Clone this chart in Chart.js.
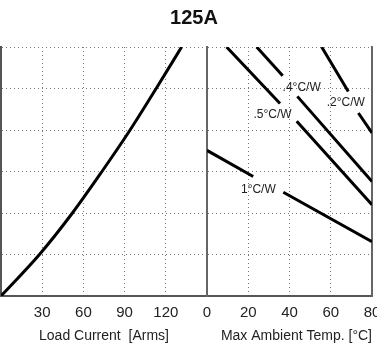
<!DOCTYPE html>
<html>
<head>
<meta charset="utf-8">
<script src="https://cdn.jsdelivr.net/npm/chart.js@4"></script>
<style>
  html, body { margin: 0; padding: 0; background: #fff; overflow: hidden; }
  #wrap { position: relative; width: 377px; height: 346px; overflow: hidden; }
  #wrap canvas { position: absolute; left: 0; top: 0; }
  #title { position: absolute; left: 0; top: 6px; width: 388px; text-align: center;
           font: bold 20px "Liberation Sans", Arial, sans-serif; color: #111; }
</style>
</head>
<body>
<div id="wrap">
  <canvas id="leftChart" width="390" height="346"></canvas>
  <canvas id="rightChart" width="390" height="346"></canvas>
  <div id="title">125A</div>
</div>
<script>
// left panel: power vs load current
var loadCurrent = [0, 28, 52, 73.5, 94, 113, 131.5];
var powerLoss = [0, 25, 50, 75, 100, 125, 150];

// right panel: power vs max ambient temp, one line per heatsink rating
// (null splits a line where its label sits)
var temp1 = [0, 22.4, 30, 37, 80];
var power1 = [87.7, 72, null, 62.5, 32.75];
var temp05 = [9.5, 35.4, 40, 43.5, 80];
var power05 = [150, 116, null, 105.25, 55];
var temp04 = [24.1, 36.7, 40, 43.8, 80];
var power04 = [150, 132.75, null, 120.25, 69];
var temp02 = [55.6, 68.5, 71, 73.4, 80];
var power02 = [150, 123.25, null, 110.25, 98.25];

var ratingLabels = ['.4\u00B0C/W', '.2\u00B0C/W', '.5\u00B0C/W', '1\u00B0C/W'];
var labelTemp = [45.9, 67.3, 31.8, 24.9];
var labelPower = [125.5, 116.25, 109.25, 64];

var fontFamily = '"Liberation Sans", Arial, sans-serif';

function pts(xs, ys) {
    var out = [];
    for (var i = 0; i < xs.length; i++) out.push({x: xs[i], y: ys[i]});
    return out;
}

function lineSet(xs, ys, smooth) {
    return {
        data: pts(xs, ys),
        borderColor: '#000',
        borderWidth: 3,
        pointRadius: 0,
        pointHoverRadius: 0,
        pointBorderWidth: 0,
        pointHitRadius: 0,
        fill: false,
        spanGaps: false,
        cubicInterpolationMode: smooth ? 'monotone' : 'default',
        tension: smooth ? 0.4 : 0
    };
}

var dotted = [1, 3];

function yScale() {
    return {
        type: 'linear',
        min: 0,
        max: 150,
        ticks: {display: false, stepSize: 25},
        grid: {color: '#777', lineWidth: 1, drawTicks: false},
        border: {display: true, color: '#555', width: 2, dash: dotted},
        afterFit: function(s) { s.width = 0; }
    };
}

function xScale(max, step, title, align, hideLabel) {
    return {
        type: 'linear',
        min: 0,
        max: max,
        ticks: {
            stepSize: step,
            padding: 0,
            color: '#222',
            font: {family: fontFamily, size: 15},
            maxRotation: 0,
            callback: function(v) { return hideLabel(v) ? '' : v; }
        },
        // invisible tick marks give the gap between axis and labels
        grid: {color: '#777', lineWidth: 1, drawTicks: true, tickLength: 8, tickColor: 'rgba(0,0,0,0)'},
        border: {display: true, color: '#555', width: 2, dash: dotted},
        title: {
            display: true,
            text: title,
            align: align,
            color: '#222',
            font: {family: fontFamily, size: 14},
            padding: {top: 0, bottom: 1}
        },
        afterFit: function(s) { s.height = 50; }
    };
}

var ratingText = {
    id: 'ratingText',
    afterDatasetsDraw: function(chart) {
        var c = chart.ctx;
        c.save();
        c.fillStyle = '#222';
        c.font = '12px ' + fontFamily;
        c.textAlign = 'center';
        c.textBaseline = 'middle';
        for (var i = 0; i < ratingLabels.length; i++) {
            c.fillText(ratingLabels[i],
                chart.scales.x.getPixelForValue(labelTemp[i]),
                chart.scales.y.getPixelForValue(labelPower[i]));
        }
        c.restore();
    }
};

new Chart(document.getElementById('leftChart'), {
    type: 'line',
    data: {datasets: [lineSet(loadCurrent, powerLoss, true)]},
    options: {
        responsive: false,
        animation: false,
        layout: {padding: {left: 1, right: 183, top: 47, bottom: 0}},
        plugins: {legend: {display: false}, tooltip: {enabled: false}},
        scales: {
            x: xScale(150, 30, 'Load Current  [Arms]', 'center', function(v) { return v === 0 || v === 150; }),
            y: yScale()
        }
    }
});

var rightY2 = {
    type: 'linear',
    position: 'right',
    min: 0,
    max: 150,
    ticks: {display: false},
    grid: {display: false, drawTicks: false},
    border: {display: true, color: '#666', width: 2},
    afterFit: function(s) { s.width = 0; }
};

var rightYAxis = yScale();
rightYAxis.border.color = '#666';

new Chart(document.getElementById('rightChart'), {
    type: 'line',
    data: {
        datasets: [
            lineSet(temp1, power1, false),
            lineSet(temp05, power05, false),
            lineSet(temp04, power04, false),
            lineSet(temp02, power02, false)
        ]
    },
    options: {
        responsive: false,
        animation: false,
        layout: {padding: {left: 207, right: 18, top: 47, bottom: 0}},
        plugins: {legend: {display: false}, tooltip: {enabled: false}},
        scales: {
            x: xScale(80, 20, 'Max Ambient Temp. [\u00B0C]', 'end', function(v) { return false; }),
            y: rightYAxis,
            y2: rightY2
        }
    },
    plugins: [ratingText]
});
</script>
</body>
</html>
